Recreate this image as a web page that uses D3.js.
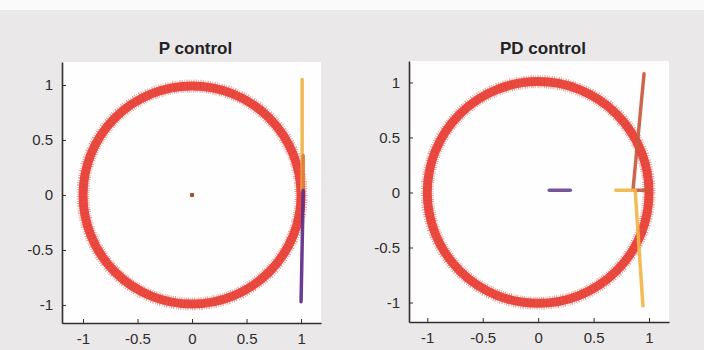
<!DOCTYPE html>
<html>
<head>
<meta charset="utf-8">
<script src="https://cdn.jsdelivr.net/npm/d3@7"></script>
<style>
  body { margin: 0; background: #ebe8ea; }
  svg { display: block; }
  .tick text { font-family: "Liberation Sans", Arial, sans-serif; font-size: 15px; fill: #2c2c2c; }
  .title { font-family: "Liberation Sans", Arial, sans-serif; font-size: 17px; font-weight: bold; fill: #222; }
</style>
</head>
<body>
<div id="chart"></div>
<script>
// tick values / labels (same on both axes)
var tickValues = [-1, -0.5, 0, 0.5, 1];
var tickLabels = ["-1", "-0.5", "0", "0.5", "1"];

// reference trajectory: unit circle
var refCircle = [{ x: 0, y: 0, r: 1 }];

// P control traces
var pYellow = [{ x: 1.01, y: 1.05 }, { x: 1.01, y: 0.04 }];
var pOrange = [{ x: 1.02, y: 0.36 }, { x: 1.02, y: 0.02 }];
var pPurple = [{ x: 1.02, y: 0.04 }, { x: 1.0, y: -0.97 }];
var pOrigin = [{ x: 0, y: 0 }];

// PD control traces
var pdPurple = [{ x: 0.1, y: 0.02 }, { x: 0.29, y: 0.02 }];
var pdOrange = [{ x: 0.955, y: 1.08 }, { x: 0.855, y: 0.02 }, { x: 0.98, y: 0.02 }];
var pdYellow = [{ x: 0.7, y: 0.02 }, { x: 0.875, y: 0.02 }, { x: 0.945, y: -1.03 }];

var panels = [
  { title: "P control", x0: 62, x1: 321, y0: 62, y1: 323,
    xd: [-1.193, 1.183], yd: [-1.164, 1.209],
    lines: [
      { data: pYellow, color: "#f0b245" },
      { data: pOrange, color: "#e57a35" },
      { data: pPurple, color: "#5e2b88" }
    ],
    dots: pOrigin },
  { title: "PD control", x0: 409, x1: 669, y0: 61, y1: 322,
    xd: [-1.165, 1.18], yd: [-1.177, 1.195],
    lines: [
      { data: pdPurple, color: "#6a4796" },
      { data: pdOrange, color: "#c85a3e" },
      { data: pdYellow, color: "#f1b548" }
    ],
    dots: [] }
];

var svg = d3.select("#chart").append("svg")
  .attr("width", 704)
  .attr("height", 350);

svg.append("rect").attr("x", 0).attr("y", 0).attr("width", 704).attr("height", 10).attr("fill", "#fbfafa");

panels.forEach(function (p) {
  var x = d3.scaleLinear().domain(p.xd).range([p.x0, p.x1]);
  var y = d3.scaleLinear().domain(p.yd).range([p.y1, p.y0]);
  var g = svg.append("g");

  g.append("rect")
    .attr("x", p.x0).attr("y", p.y0)
    .attr("width", p.x1 - p.x0).attr("height", p.y1 - p.y0)
    .attr("fill", "#fefefe");

  // reference circle drawn as dense star markers (spikes + core + darker specks)
  var rpx = function (d) { return x(d.r) - x(0); };
  g.selectAll(".ring-spikes").data(refCircle).enter().append("circle")
    .attr("cx", d => x(d.x)).attr("cy", d => y(d.y)).attr("r", rpx)
    .attr("fill", "none").attr("stroke", "#e8453d")
    .attr("stroke-width", 13).attr("stroke-dasharray", "0.9 1.3 0.6 1.7 1.1 1.2").attr("opacity", 0.55);
  g.selectAll(".ring-core").data(refCircle).enter().append("circle")
    .attr("cx", d => x(d.x)).attr("cy", d => y(d.y)).attr("r", rpx)
    .attr("fill", "none").attr("stroke", "#ea4a40").attr("stroke-width", 9);
  g.selectAll(".ring-dark").data(refCircle).enter().append("circle")
    .attr("cx", d => x(d.x)).attr("cy", d => y(d.y)).attr("r", rpx)
    .attr("fill", "none").attr("stroke", "#cf3530")
    .attr("stroke-width", 7).attr("stroke-dasharray", "0.7 2.3 0.5 3.1").attr("opacity", 0.45);

  var line = d3.line().x(d => x(d.x)).y(d => y(d.y));
  p.lines.forEach(function (l) {
    g.append("path").attr("d", line(l.data))
      .attr("fill", "none").attr("stroke", l.color)
      .attr("stroke-width", 3.5).attr("stroke-linecap", "round").attr("stroke-linejoin", "round")
      .attr("opacity", 0.92);
  });

  g.selectAll(".dot").data(p.dots).enter().append("rect")
    .attr("x", d => x(d.x) - 2).attr("y", d => y(d.y) - 2)
    .attr("width", 4).attr("height", 4).attr("fill", "#a4513e");

  // axes (MATLAB style: ticks inside, box off)
  var xAxis = d3.axisBottom(x).tickValues(tickValues)
    .tickFormat((d, i) => tickLabels[i]).tickSizeInner(-4).tickSizeOuter(0);
  var yAxis = d3.axisLeft(y).tickValues(tickValues)
    .tickFormat((d, i) => tickLabels[i]).tickSizeInner(-4).tickSizeOuter(0).tickPadding(9);

  var gx = g.append("g").attr("transform", "translate(0," + p.y1 + ")").call(xAxis);
  var gy = g.append("g").attr("transform", "translate(" + p.x0 + ",0)").call(yAxis);
  [gx, gy].forEach(function (a) {
    a.select(".domain").attr("stroke", "#2e2e2e").attr("stroke-width", 1.6);
    a.selectAll(".tick line").attr("stroke", "#2e2e2e").attr("stroke-width", 1);
  });
  gx.selectAll(".tick text").attr("y", 10).attr("dy", "0.71em");

  g.append("text").attr("class", "title")
    .attr("x", (p.x0 + p.x1) / 2 + 4).attr("y", 54)
    .attr("text-anchor", "middle").text(p.title);
});
</script>
</body>
</html>
